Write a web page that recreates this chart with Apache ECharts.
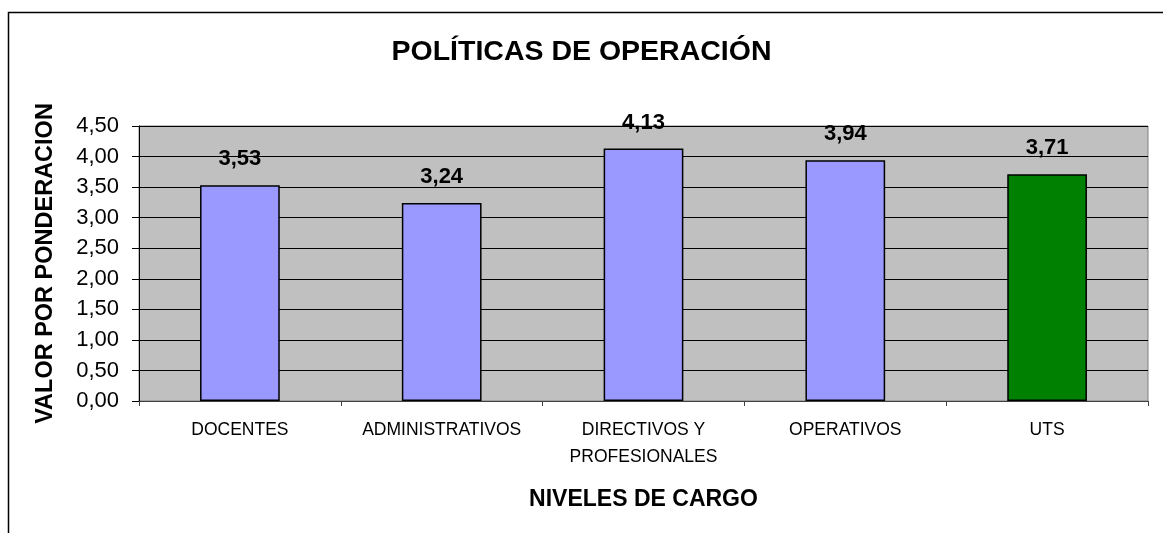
<!DOCTYPE html>
<html>
<head>
<meta charset="utf-8">
<script src="https://cdn.jsdelivr.net/npm/echarts@6/dist/echarts.min.js"></script>
<style>html,body{margin:0;padding:0;background:#fff;}#c{width:1163px;height:533px;}</style>
</head>
<body>
<div id="c"></div>
<script>
const categories = ['DOCENTES', 'ADMINISTRATIVOS', 'DIRECTIVOS Y\nPROFESIONALES', 'OPERATIVOS', 'UTS'];
const values = [3.53, 3.24, 4.13, 3.94, 3.71];
const barColors = ['#9999ff', '#9999ff', '#9999ff', '#9999ff', '#008000'];
const titleText = 'POLÍTICAS DE OPERACIÓN';
const yAxisName = 'VALOR POR PONDERACION';
const xAxisName = 'NIVELES DE CARGO';

const fmt = v => Number(v).toFixed(2).replace('.', ',');
const FONT = '"Liberation Sans", Arial, sans-serif';

const chart = echarts.init(document.getElementById('c'), null, {renderer: 'canvas'});
chart.setOption({
  animation: false,
  backgroundColor: '#fff',
  textStyle: {fontFamily: FONT, color: '#000'},
  graphic: [{
    type: 'rect', z: -10,
    shape: {x: 8.5, y: 12.5, width: 1300, height: 700},
    style: {fill: 'none', stroke: '#000', lineWidth: 1.5}
  }],
  title: {
    text: titleText, left: 'center', top: 33,
    textStyle: {fontFamily: FONT, fontSize: 28.5, fontWeight: 'bold', color: '#000'}
  },
  grid: {
    left: 139, right: 15, top: 126, bottom: 132,
    show: true, backgroundColor: '#c0c0c0', borderColor: '#808080', borderWidth: 1
  },
  xAxis: {
    type: 'category', data: categories,
    name: xAxisName, nameLocation: 'middle', nameGap: 87,
    nameTextStyle: {fontFamily: FONT, fontSize: 23, fontWeight: 'bold', color: '#000'},
    axisLine: {show: true, lineStyle: {color: '#404040', width: 1}},
    axisTick: {show: true, alignWithLabel: false, length: 5, lineStyle: {color: '#404040'}},
    axisLabel: {fontFamily: FONT, fontSize: 17.5, color: '#000', margin: 16, lineHeight: 27, interval: 0}
  },
  yAxis: {
    type: 'value', min: 0, max: 4.5, interval: 0.5,
    name: yAxisName, nameLocation: 'middle', nameGap: 81, nameRotate: 90,
    nameTextStyle: {fontFamily: FONT, fontSize: 23.5, fontWeight: 'bold', color: '#000'},
    axisLine: {show: true, lineStyle: {color: '#000', width: 1}},
    axisTick: {show: true, length: 7, lineStyle: {color: '#000'}},
    axisLabel: {fontFamily: FONT, fontSize: 22, color: '#000', margin: 20, formatter: fmt},
    splitLine: {show: true, lineStyle: {color: '#000', width: 1}}
  },
  series: [{
    type: 'bar',
    data: values.map((v, i) => ({value: v, itemStyle: {color: barColors[i]}})),
    barWidth: '39.5%',
    itemStyle: {borderColor: '#000', borderWidth: 1.5},
    label: {
      show: true, position: 'top', distance: 15,
      fontFamily: FONT, fontSize: 22, fontWeight: 'bold', color: '#000',
      formatter: p => fmt(p.value)
    }
  }]
});
</script>
</body>
</html>
